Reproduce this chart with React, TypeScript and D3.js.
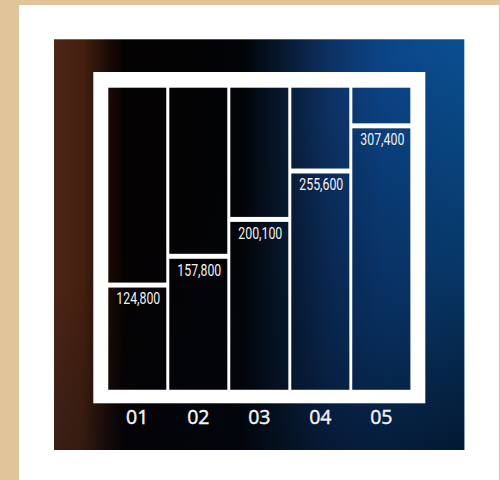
import React from "react";
import * as d3 from "d3";

const categories: string[] = ["01", "02", "03", "04", "05"];
const values: number[] = [124800, 157800, 200100, 255600, 307400];

const W = 500;
const H = 480;

export default function App() {
  const x = d3
    .scaleBand<string>()
    .domain(categories)
    .range([108.3, 410.3])
    .paddingInner(0.05)
    .paddingOuter(0);
  const y = d3.scaleLinear().domain([0, 354000]).range([396.4, 87.7]);
  const barTop = y(354000);
  const barBottom = 389.7;
  const gap = 5;
  const fmt = d3.format(",");

  return (
    <svg
      width={W}
      height={H}
      style={{ position: "absolute", left: 0, top: 0, display: "block" }}
    >
      <defs>
        <linearGradient id="bg" gradientUnits="userSpaceOnUse" x1={54} y1={0} x2={464} y2={0}>
          <stop offset="0" stopColor="#4b2516" />
          <stop offset="0.07" stopColor="#45200f" />
          <stop offset="0.13" stopColor="#1c0b05" />
          <stop offset="0.17" stopColor="#050202" />
          <stop offset="0.46" stopColor="#020407" />
          <stop offset="0.56" stopColor="#071a30" />
          <stop offset="0.67" stopColor="#0d3163" />
          <stop offset="0.8" stopColor="#0b4486" />
          <stop offset="1" stopColor="#0a5296" />
        </linearGradient>
        <linearGradient id="shade" gradientUnits="userSpaceOnUse" x1={260} y1={150} x2={470} y2={455}>
          <stop offset="0" stopColor="#020814" stopOpacity="0" />
          <stop offset="0.55" stopColor="#020814" stopOpacity="0.35" />
          <stop offset="1" stopColor="#020814" stopOpacity="0.8" />
        </linearGradient>
      </defs>
      <rect x={0} y={0} width={W} height={H} fill="#e0c59b" />
      <rect x={19} y={5} width={480} height={H - 5} fill="#ffffff" />
      <rect x={54} y={39.3} width={410.3} height={410.7} fill="url(#bg)" />
      <rect x={54} y={39.3} width={410.3} height={410.7} fill="url(#shade)" />
      <rect x={93.3} y={72} width={332} height={331.3} fill="#ffffff" />
      {categories.map((c, i) => {
        const bx = x(c) as number;
        const bw = x.bandwidth();
        const vy = y(values[i]);
        return (
          <g key={c}>
            <rect x={bx} y={barTop} width={bw} height={vy - gap - barTop} fill="url(#bg)" />
            <rect x={bx} y={barTop} width={bw} height={vy - gap - barTop} fill="url(#shade)" />
            <rect x={bx} y={vy} width={bw} height={barBottom - vy} fill="url(#bg)" />
            <rect x={bx} y={vy} width={bw} height={barBottom - vy} fill="url(#shade)" />
            <text
              x={bx + bw / 2 + 1}
              y={vy + 16.8}
              textAnchor="middle"
              fill="#f2f2f2"
              fontFamily="Roboto, 'Noto Sans', sans-serif"
              fontSize={16.5}
              textLength={44}
              lengthAdjust="spacingAndGlyphs"
            >
              {fmt(values[i])}
            </text>
            <text
              x={bx + bw / 2}
              y={424}
              textAnchor="middle"
              fill="#f4f4f4"
              stroke="#f4f4f4"
              strokeWidth={0.45}
              fontFamily="'Open Sans', 'Noto Sans', sans-serif"
              fontSize={19.5}
              fontWeight={400}
            >
              {c}
            </text>
          </g>
        );
      })}
    </svg>
  );
}
